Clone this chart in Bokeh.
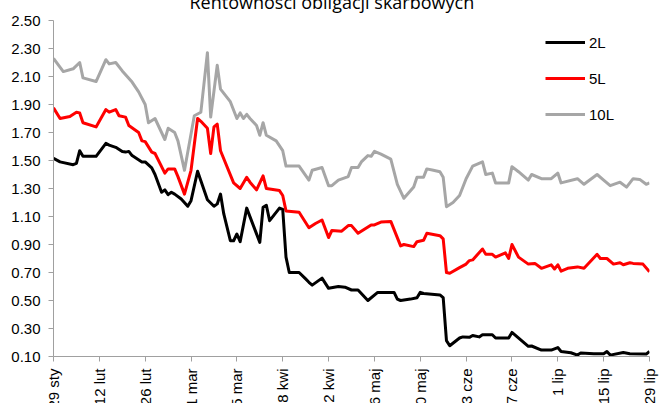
import math
import pandas as pd
from bokeh.plotting import figure
from bokeh.models import (ColumnDataSource, Range1d, FixedTicker, NumeralTickFormatter,
                          CustomJSTickFormatter, Legend, LegendItem)
from bokeh.embed import file_html
from bokeh.resources import INLINE

# ---------------- data ----------------
YEAR = "2020-"
title_text = "Rentowności obligacji skarbowych"
series_names = ["2L", "5L", "10L"]
series_colors = ["#000000", "#FF0000", "#A6A6A6"]

tick_dates = ["01-29", "02-12", "02-26", "03-11", "03-25", "04-08", "04-22",
              "05-06", "05-20", "06-03", "06-17", "07-01", "07-15", "07-29"]
tick_labels = ["29 sty", "12 lut", "26 lut", "11 mar", "25 mar", "8 kwi", "22 kwi",
               "6 maj", "20 maj", "3 cze", "17 cze", "1 lip", "15 lip", "29 lip"]
y_ticks = [0.10, 0.30, 0.50, 0.70, 0.90, 1.10, 1.30, 1.50, 1.70, 1.90, 2.10, 2.30, 2.50]

dates_2L = ["01-29", "01-31", "02-04", "02-05", "02-06", "02-07", "02-11", "02-14", "02-15", "02-17",
            "02-19", "02-20", "02-21", "02-22", "02-25", "02-26", "02-28", "02-29", "03-02", "03-03",
            "03-04", "03-05", "03-06", "03-08", "03-10", "03-11", "03-13", "03-14", "03-16", "03-18",
            "03-19", "03-20", "03-21", "03-23", "03-24", "03-25", "03-26", "03-28", "04-01", "04-02",
            "04-03", "04-04", "04-07", "04-08", "04-09", "04-10", "04-13", "04-15", "04-16", "04-17",
            "04-20", "04-22", "04-25", "04-27", "04-29", "05-01", "05-04", "05-07", "05-12", "05-13",
            "05-14", "05-17", "05-19", "05-20", "05-21", "05-26", "05-27", "05-28", "05-29", "06-01",
            "06-02", "06-04", "06-05", "06-07", "06-08", "06-11", "06-12", "06-16", "06-17", "06-22",
            "06-23", "06-26", "06-29", "07-01", "07-02", "07-05", "07-07", "07-08", "07-12", "07-15",
            "07-16", "07-17", "07-21", "07-23", "07-28", "07-29"]
vals_2L = [1.516, 1.49, 1.47, 1.48, 1.57, 1.53, 1.53, 1.623, 1.61, 1.594,
           1.564, 1.56, 1.565, 1.535, 1.49, 1.49, 1.447, 1.40, 1.273, 1.29,
           1.256, 1.273, 1.26, 1.225, 1.173, 1.213, 1.423, 1.356, 1.22, 1.173,
           1.19, 1.26, 1.118, 0.927, 0.927, 0.975, 0.92, 1.16, 0.915, 1.166,
           1.18, 1.07, 1.16, 1.15, 0.81, 0.70, 0.70, 0.654, 0.63, 0.61,
           0.66, 0.587, 0.60, 0.595, 0.575, 0.575, 0.50, 0.558, 0.558, 0.51,
           0.50, 0.51, 0.52, 0.558, 0.55, 0.54, 0.52, 0.213, 0.177, 0.232,
           0.24, 0.237, 0.25, 0.24, 0.255, 0.255, 0.232, 0.232, 0.272, 0.173,
           0.175, 0.146, 0.146, 0.164, 0.136, 0.127, 0.11, 0.125, 0.12, 0.12,
           0.136, 0.11, 0.128, 0.12, 0.117, 0.136]

dates_5L = ["01-29", "01-31", "02-03", "02-05", "02-06", "02-07", "02-11", "02-14", "02-15", "02-17",
            "02-18", "02-20", "02-21", "02-24", "02-25", "02-26", "02-28", "02-29", "03-03", "03-04",
            "03-06", "03-07", "03-09", "03-11", "03-13", "03-14", "03-16", "03-17", "03-18", "03-19",
            "03-20", "03-24", "03-26", "03-28", "03-29", "03-31", "04-02", "04-03", "04-07", "04-08",
            "04-09", "04-13", "04-16", "04-18", "04-20", "04-22", "04-23", "04-26", "04-28", "04-29",
            "05-01", "05-05", "05-06", "05-08", "05-11", "05-14", "05-15", "05-18", "05-19", "05-21",
            "05-22", "05-26", "05-27", "05-28", "05-29", "06-01", "06-03", "06-04", "06-05", "06-08",
            "06-09", "06-11", "06-12", "06-15", "06-16", "06-17", "06-19", "06-22", "06-24", "06-26",
            "06-29", "06-30", "07-01", "07-02", "07-04", "07-07", "07-09", "07-13", "07-14", "07-16",
            "07-18", "07-20", "07-21", "07-23", "07-24", "07-27", "07-29"]
vals_5L = [1.876, 1.80, 1.814, 1.845, 1.84, 1.77, 1.74, 1.864, 1.845, 1.864,
           1.82, 1.81, 1.75, 1.70, 1.64, 1.635, 1.56, 1.55, 1.41, 1.44,
           1.44, 1.385, 1.26, 1.43, 1.80, 1.78, 1.73, 1.55, 1.74, 1.76,
           1.57, 1.34, 1.30, 1.38, 1.345, 1.29, 1.39, 1.30, 1.285, 1.25,
           1.14, 1.13, 1.02, 1.05, 1.075, 0.95, 1.00, 0.995, 1.035, 1.035,
           0.98, 1.04, 1.04, 1.06, 1.065, 0.89, 0.90, 0.885, 0.92, 0.93,
           0.98, 0.963, 0.94, 0.70, 0.695, 0.735, 0.76, 0.785, 0.79, 0.868,
           0.83, 0.83, 0.81, 0.84, 0.80, 0.90, 0.81, 0.76, 0.765, 0.73,
           0.755, 0.725, 0.755, 0.71, 0.73, 0.74, 0.73, 0.83, 0.80, 0.80,
           0.76, 0.77, 0.755, 0.77, 0.765, 0.76, 0.705]

dates_10L = ["01-29", "02-01", "02-04", "02-06", "02-07", "02-11", "02-14", "02-15", "02-17", "02-19",
             "02-22", "02-24", "02-26", "02-27", "02-29", "03-03", "03-04", "03-06", "03-07", "03-09",
             "03-12", "03-14", "03-16", "03-17", "03-19", "03-20", "03-23", "03-25", "03-26", "03-27",
             "03-28", "03-29", "03-31", "04-01", "04-02", "04-03", "04-06", "04-08", "04-09", "04-13",
             "04-16", "04-17", "04-20", "04-22", "04-23", "04-25", "04-28", "04-29", "05-01", "05-02",
             "05-04", "05-05", "05-06", "05-08", "05-11", "05-13", "05-15", "05-18", "05-19", "05-21",
             "05-22", "05-24", "05-26", "05-27", "05-28", "05-30", "06-01", "06-03", "06-05", "06-08",
             "06-09", "06-11", "06-12", "06-16", "06-17", "06-19", "06-22", "06-23", "06-26", "06-29",
             "07-01", "07-02", "07-07", "07-09", "07-13", "07-15", "07-17", "07-20", "07-22", "07-24",
             "07-26", "07-28", "07-29"]
vals_10L = [2.23, 2.135, 2.155, 2.20, 2.09, 2.064, 2.22, 2.19, 2.20, 2.14,
            2.06, 1.99, 1.90, 1.77, 1.80, 1.65, 1.73, 1.70, 1.64, 1.43,
            1.82, 1.845, 2.27, 1.81, 2.18, 2.01, 1.92, 1.80, 1.84, 1.80,
            1.83, 1.80, 1.75, 1.68, 1.77, 1.68, 1.64, 1.57, 1.46, 1.46,
            1.36, 1.43, 1.45, 1.32, 1.32, 1.36, 1.385, 1.45, 1.45, 1.49,
            1.535, 1.53, 1.565, 1.545, 1.51, 1.33, 1.23, 1.31, 1.38, 1.38,
            1.44, 1.43, 1.42, 1.38, 1.17, 1.20, 1.25, 1.37, 1.46, 1.49,
            1.40, 1.41, 1.34, 1.34, 1.456, 1.42, 1.36, 1.40, 1.37, 1.37,
            1.41, 1.34, 1.37, 1.33, 1.40, 1.36, 1.32, 1.345, 1.31, 1.37,
            1.365, 1.33, 1.34]

# ---------------- layout constants ----------------
SHIFT = 20                     # canvas pulled up: the title is cut at the top
EXTRA = 23                     # canvas runs past the bottom: date labels are cut
W, H = 659, 403 + SHIFT + EXTRA
LEFT, RIGHT, TOP, BOTTOM = 53, 10, 20 + SHIFT, 47 + EXTRA
FONT = "Liberation Sans"
EPOCH = pd.Timestamp("1970-01-01")


def to_dt(lst):
    return pd.to_datetime([YEAR + s for s in lst])


def to_ms(t):
    return (t - EPOCH).total_seconds() * 1000.0


tick_ts = to_dt(tick_dates)
tick_ms = [to_ms(t) for t in tick_ts]
x0, x1 = tick_ts[0], tick_ts[-1]
Y_MIN, Y_MAX = y_ticks[0], y_ticks[-1]

p = figure(width=W, height=H, x_axis_type="datetime",
           x_range=Range1d(x0, x1), y_range=Range1d(Y_MIN, Y_MAX),
           output_backend="svg", toolbar_location=None,
           min_border_left=LEFT, min_border_right=RIGHT,
           min_border_top=TOP, min_border_bottom=BOTTOM,
           margin=(-SHIFT, 0, -EXTRA, 0))
p.background_fill_color = "white"
p.border_fill_color = "white"
p.outline_line_color = None
p.xgrid.visible = False
p.ygrid.visible = False

# title (only its lower part shows, as in the original)
p.title.text = title_text
p.title.align = "left"
p.title.offset = 189 - LEFT
p.title.standoff = 13
p.title.vertical_align = "bottom"
p.title.text_font = "Open Sans"
p.title.text_font_size = "18px"
p.title.text_font_style = "normal"
p.title.text_color = "#000000"

axis_col = "#A0A0A0"
# y axis
p.yaxis.ticker = FixedTicker(ticks=y_ticks)
p.yaxis.formatter = NumeralTickFormatter(format="0.00")
p.yaxis.major_label_text_font = FONT
p.yaxis.major_label_text_font_size = "15px"
p.yaxis.major_label_text_color = "#000000"
p.yaxis.axis_line_color = axis_col
p.yaxis.major_tick_line_color = axis_col
p.yaxis.major_tick_in = 0
p.yaxis.major_tick_out = 5
p.yaxis.minor_tick_line_color = None
p.yaxis.major_label_standoff = 8

# x axis with rotated date labels
p.xaxis.ticker = FixedTicker(ticks=tick_ms)
p.xaxis.formatter = CustomJSTickFormatter(
    args=dict(tk=tick_ms, lb=tick_labels),
    code="""
    for (let i = 0; i < tk.length; i++) {
        if (Math.abs(tk[i] - tick) < 3600000) { return lb[i]; }
    }
    return '';
    """)
p.xaxis.major_label_orientation = math.pi / 2
p.xaxis.major_label_standoff = 7
p.xaxis.major_label_text_font = FONT
p.xaxis.major_label_text_font_size = "15px"
p.xaxis.major_label_text_color = "#000000"
p.xaxis.axis_line_color = axis_col
p.xaxis.major_tick_line_color = axis_col
p.xaxis.major_tick_in = 0
p.xaxis.major_tick_out = 5
p.xaxis.minor_tick_line_color = None

# series
renderers = {}
for name, d, v, c in [("10L", dates_10L, vals_10L, series_colors[2]),
                      ("5L", dates_5L, vals_5L, series_colors[1]),
                      ("2L", dates_2L, vals_2L, series_colors[0])]:
    src = ColumnDataSource(dict(x=to_dt(d), y=v))
    renderers[name] = p.line("x", "y", source=src, line_color=c, line_width=3,
                             line_join="round")

# legend (location = bottom-left corner of the legend box, from frame bottom-left)
frame_h = H - TOP - BOTTOM
leg_top, leg_h = 12, 3 * 20 + 2 * 16      # legend top 12px below frame top
legend = Legend(items=[LegendItem(label=n, renderers=[renderers[n]]) for n in series_names],
                location=(545 - LEFT, frame_h - leg_top - leg_h),
                orientation="vertical",
                padding=0, margin=0, spacing=16, glyph_width=40, glyph_height=20,
                label_height=20, label_standoff=4,
                label_text_font=FONT, label_text_font_size="15px",
                label_text_color="#000000",
                border_line_color=None, background_fill_alpha=0)
p.add_layout(legend)

open("out.html", "w").write(file_html(p, INLINE))
